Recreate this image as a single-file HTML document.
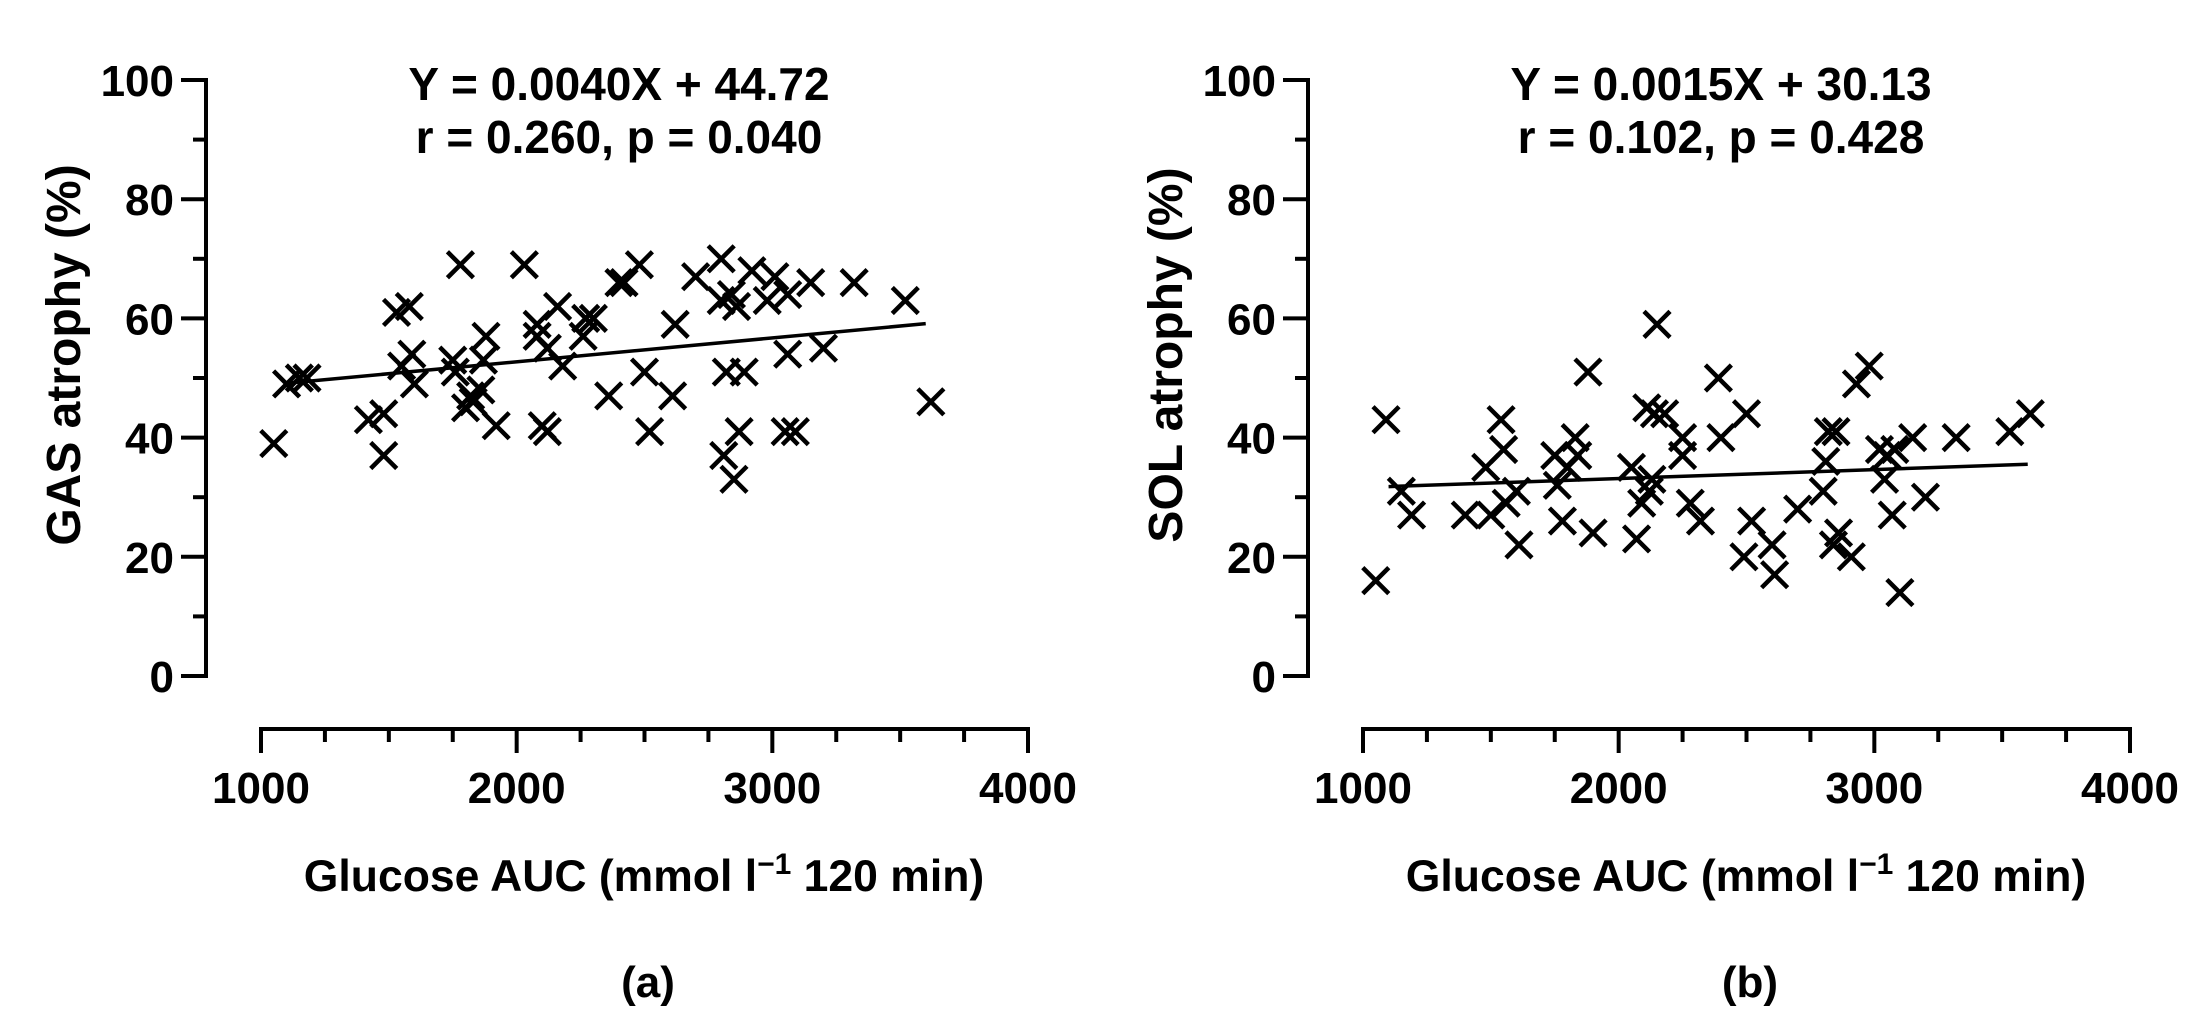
<!DOCTYPE html>
<html><head><meta charset="utf-8"><style>
html,body{margin:0;padding:0;background:#fff}
svg{display:block}
text{font-family:"Liberation Sans",Arial,sans-serif;font-weight:bold;fill:#000}
</style></head><body>
<svg id="fig" width="2199" height="1031" viewBox="0 0 2199 1031"></svg>
<script>
const xTicks=[1000,2000,3000,4000];
const yTicks=[0,20,40,60,80,100];
const gasX=[1050,1100,1150,1180,1420,1480,1480,1530,1580,1550,1590,1600,1750,1760,1780,1800,1820,1830,1860,1880,1870,1920,2030,2080,2080,2100,2120,2120,2160,2180,2260,2270,2300,2360,2400,2420,2480,2500,2520,2620,2610,2700,2800,2800,2810,2820,2840,2850,2860,2870,2890,2920,2980,3010,3050,3060,3060,3090,3150,3200,3320,3520,3620];
const gasY=[39,49,50,50,43,44,37,61,62,52,54,49,53,51,69,45,47,46,48,57,53,42,69,59,57,42,41,55,62,52,57,60,60,47,66,66,69,51,41,59,47,67,70,63,37,51,64,33,62,41,51,68,63,67,41,54,64,41,66,55,66,63,46];
const solX=[1050,1090,1150,1190,1400,1480,1500,1540,1550,1560,1600,1610,1750,1760,1780,1800,1830,1840,1880,1900,2050,2070,2090,2110,2120,2130,2140,2150,2180,2250,2250,2280,2320,2390,2400,2500,2490,2520,2600,2610,2700,2800,2810,2820,2840,2860,2850,2910,2930,2980,3020,3040,3050,3070,3080,3100,3150,3200,3320,3530,3610];
const solY=[16,43,31,27,27,35,27,43,38,29,31,22,37,32,26,35,40,37,51,24,35,23,29,45,31,33,44,59,44,40,37,29,26,50,40,44,20,26,22,17,28,31,36,41,22,24,41,20,49,52,38,33,37,27,38,14,40,30,40,41,44];
const gasFit=[0.0040,44.72], solFit=[0.0015,30.13];
const fitRange=[1100,3600];

const NS='http://www.w3.org/2000/svg';
const svg=document.getElementById('fig');
function mk(tag,attrs,parent){const e=document.createElementNS(NS,tag);for(const k in attrs)e.setAttribute(k,attrs[k]);(parent||svg).appendChild(e);return e;}

function panel(off,key,title1,title2,ylab,letter,xs,ys,fit){
  const g=mk('g',{});
  
  
  const X=v=>off+261+(v-1000)/3000*767;
  const Y=v=>676-v/100*596;
  const axX=off+206, axY=729;
  const ya=mk('line',{x1:axX,y1:Y(100)-2,x2:axX,y2:Y(0)+2,stroke:'#000','stroke-width':4},g);
  
  
  for(let v=0;v<=100;v+=10){
    const major=v%20===0;
    mk('line',{x1:axX-(major?25:13),y1:Y(v),x2:axX,y2:Y(v),stroke:'#000','stroke-width':4},g);
  }
  yTicks.forEach(v=>{
    const t=mk('text',{x:axX-32,y:Y(v)+16,'text-anchor':'end','font-size':44},g);
    t.textContent=v;
    
    
  });
  const xa=mk('line',{x1:X(1000)-2,y1:axY,x2:X(4000)+2,y2:axY,stroke:'#000','stroke-width':4},g);
  
  
  for(let v=1000;v<=4000;v+=250){
    const major=v%1000===0;
    mk('line',{x1:X(v),y1:axY,x2:X(v),y2:axY+(major?24:13),stroke:'#000','stroke-width':4},g);
  }
  xTicks.forEach(v=>{
    const t=mk('text',{x:X(v),y:803,'text-anchor':'middle','font-size':44},g);
    t.textContent=v;
    
    
  });
  const cx=off+619;
  let t=mk('text',{x:cx,y:100,'text-anchor':'middle','font-size':46},g);t.textContent=title1;
  
  
  t=mk('text',{x:cx,y:153,'text-anchor':'middle','font-size':46},g);t.textContent=title2;
  
  
  t=mk('text',{x:0,y:0,'text-anchor':'middle','font-size':48,transform:`translate(${off+80},355) rotate(-90)`},g);t.textContent=ylab;
  
  
  t=mk('text',{x:off+644,y:891,'text-anchor':'middle','font-size':44.5},g);
  t.innerHTML='Glucose AUC (mmol l<tspan dy="-17" font-size="30">−1</tspan><tspan dy="17"> 120 min)</tspan>';
  
  
  t=mk('text',{x:off+648,y:997,'text-anchor':'middle','font-size':44},g);t.textContent=letter;
  
  
  const s=13;
  xs.forEach((xv,i)=>{
    const px=X(xv),py=Y(ys[i]);
    const p=mk('path',{d:`M${px-s},${py-s}L${px+s},${py+s}M${px-s},${py+s}L${px+s},${py-s}`,stroke:'#000','stroke-width':4.5,fill:'none'},g);
    
    
  });
  const l=mk('line',{x1:X(fitRange[0]),y1:Y(fit[0]*fitRange[0]+fit[1]),x2:X(fitRange[1]),y2:Y(fit[0]*fitRange[1]+fit[1]),stroke:'#000','stroke-width':3.5},g);
  
  
}
panel(0,'gas','Y = 0.0040X + 44.72','r = 0.260, p = 0.040','GAS atrophy (%)','(a)',gasX,gasY,gasFit);
panel(1102,'sol','Y = 0.0015X + 30.13','r = 0.102, p = 0.428','SOL atrophy (%)','(b)',solX,solY,solFit);
</script>
</body></html>
